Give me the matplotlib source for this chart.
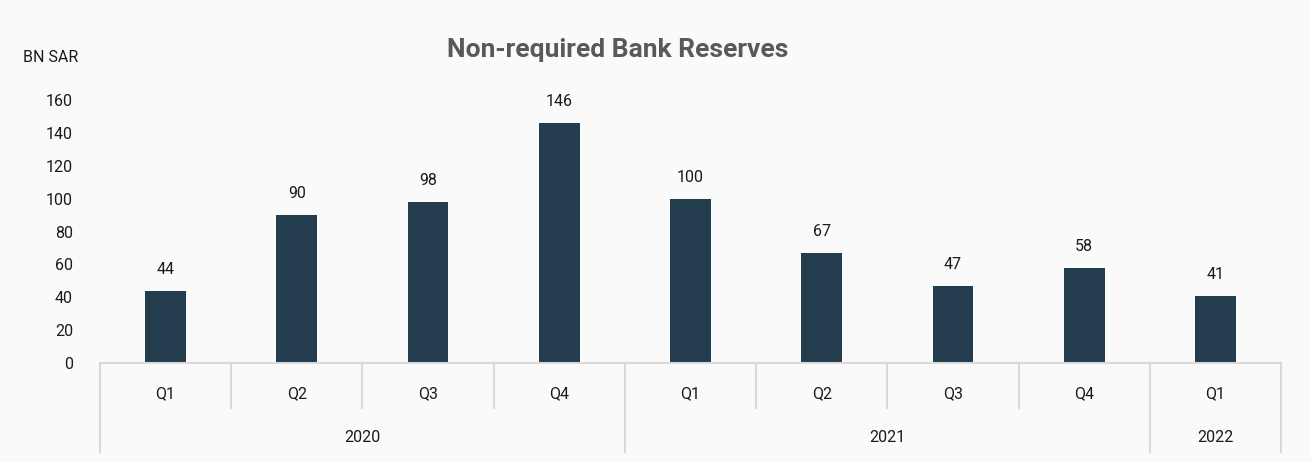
import matplotlib
matplotlib.use("Agg")
import matplotlib.pyplot as plt
from matplotlib.lines import Line2D

quarters = ["Q1", "Q2", "Q3", "Q4", "Q1", "Q2", "Q3", "Q4", "Q1"]
years = ["2020", "2021", "2022"]
year_counts = [4, 4, 1]
values = [44, 90, 98, 146, 100, 67, 47, 58, 41]

plt.rcParams['font.family'] = ['Roboto', 'DejaVu Sans']
bg = "#FAFAFA"
bar_color = "#233D4F"
grid_col = "#D9D9D9"
text_col = "#1A1A1A"
fs = 11.5

W, H = 1311, 462
fig = plt.figure(figsize=(W / 100, H / 100), dpi=100, facecolor=bg)
ax_left, ax_right = 100 / W, 1281 / W
ax_bottom, ax_top = 1 - 363 / H, 1 - 100 / H
ax = fig.add_axes([ax_left, ax_bottom, ax_right - ax_left, ax_top - ax_bottom])
ax.set_facecolor(bg)

x = list(range(len(values)))
bars = ax.bar(x, values, width=0.31, color=bar_color, zorder=2)
ax.set_xlim(-0.5, len(values) - 0.5)
ax.set_ylim(0, 160)
ax.set_yticks(range(0, 161, 20))
ax.tick_params(axis='y', length=0, pad=19.5, labelsize=fs, labelcolor=text_col)
ax.set_xticks([])
for s in ["top", "right", "left"]:
    ax.spines[s].set_visible(False)
ax.spines["bottom"].set_color(grid_col)
ax.spines["bottom"].set_linewidth(1.5)

for xi, v in zip(x, values):
    ax.annotate(f"{v}", (xi, v), xytext=(0, 10), textcoords="offset points",
                ha="center", va="bottom", fontsize=fs, color=text_col, clip_on=False)

# Two-level category axis
trans = ax.get_xaxis_transform()
def px_to_axes_y(py):
    fy = 1 - py / H
    return (fy - ax_bottom) / (ax_top - ax_bottom)

q_label_y = px_to_axes_y(394)
year_label_y = px_to_axes_y(438)
q_sep_bottom = px_to_axes_y(408)
y_sep_bottom = px_to_axes_y(452)

for xi, q in zip(x, quarters):
    ax.text(xi, q_label_y, q, transform=trans, ha="center", va="center",
            fontsize=fs, color=text_col, clip_on=False)

boundaries = [-0.5]
for c in year_counts:
    boundaries.append(boundaries[-1] + c)
year_bounds = set(boundaries)
for b in [i - 0.5 for i in range(len(values) + 1)]:
    bottom = y_sep_bottom if b in year_bounds else q_sep_bottom
    ax.add_line(Line2D([b, b], [0, bottom], transform=trans, color=grid_col,
                       linewidth=1.5, clip_on=False))
for yr, a, b in zip(years, boundaries[:-1], boundaries[1:]):
    ax.text((a + b) / 2, year_label_y, yr, transform=trans, ha="center", va="center",
            fontsize=fs, color=text_col, clip_on=False)

fig.text(618 / W, 1 - 50 / H, "Non-required Bank Reserves", ha="center", va="center",
         fontsize=19, fontweight="bold", color="#595959")
fig.text(23 / W, 1 - 57 / H, "BN SAR", ha="left", va="center", fontsize=fs, color=text_col)

fig.savefig("out.png", dpi=100, facecolor=bg)
